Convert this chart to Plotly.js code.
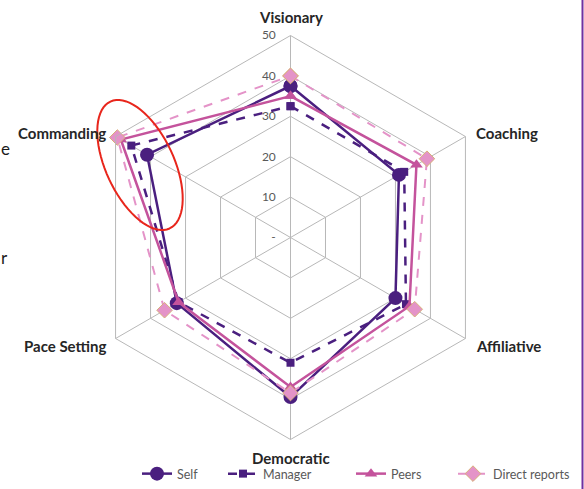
<!DOCTYPE html>
<html>
<head>
<meta charset="utf-8">
<script src="https://cdn.plot.ly/plotly-3.0.1.min.js"></script>
<style>html,body{margin:0;padding:0;background:#fff;}#chart{width:584px;height:489px;}</style>
</head>
<body>
<div id="chart"></div>
<script>
const categories = ['Visionary', 'Coaching', 'Affiliative', 'Democratic', 'Pace Setting', 'Commanding'];
const selfScores = [37.5, 31, 30, 39.5, 32.5, 41];
const managerScores = [32.5, 32.5, 33, 31, 32, 45.5];
const peersScores = [35, 36, 34, 37, 32, 48.5];
const directReportsScores = [40, 39, 35.5, 38.5, 36, 49.5];
const radialTicks = [0, 10, 20, 30, 40, 50];
const radialTickText = ['-', '10', '20', '30', '40', '50'];

function closed(a) { return a.concat([a[0]]); }

const W = 584, H = 489;
const cx = 290.5, cy = 237.5, R = 202;

function mk(name, vals, color, dash, symbol, size, width, legendId, mline) {
  return {
    type: 'scatterpolar', mode: 'lines+markers', name: name, legend: legendId,
    r: closed(vals), theta: closed(categories),
    line: {color: color, width: width, dash: dash},
    marker: {symbol: symbol, size: size, color: color, line: mline || {width: 0}},
    hoverinfo: 'skip'
  };
}

const data = [
  mk('Self', selfScores, '#4a1f7f', 'solid', 'circle', 14, 2.5, 'legend'),
  mk('Manager', managerScores, '#4a1f7f', 'dash', 'square', 8, 2.5, 'legend2'),
  mk('Peers', peersScores, '#c4539c', 'solid', 'triangle-up', 11, 2.5, 'legend3'),
  mk('Direct reports', directReportsScores, '#e493c8', 'dash', 'diamond', 12, 2, 'legend4', {width: 1, color: '#d9b07a'})
];

// red ellipse annotation around Commanding
const ex = 140, ey = 165, ea = 70, eb = 34, rot = 65 * Math.PI / 180;
let path = '';
for (let i = 0; i <= 72; i++) {
  const t = i / 72 * 2 * Math.PI;
  const px = ex + ea * Math.cos(t) * Math.cos(rot) - eb * Math.sin(t) * Math.sin(rot);
  const py = ey + ea * Math.cos(t) * Math.sin(rot) + eb * Math.sin(t) * Math.cos(rot);
  path += (i === 0 ? 'M ' : ' L ') + (px / W).toFixed(5) + ',' + (1 - py / H).toFixed(5);
}
path += ' Z';

// category label placement (pixels)
const labelPos = [
  {x: 290.5, y: 17, xa: 'center'}, {x: 474, y: 133, xa: 'left'}, {x: 474, y: 346, xa: 'left'},
  {x: 290.5, y: 458, xa: 'center'}, {x: 108, y: 346, xa: 'right'}, {x: 108, y: 133, xa: 'right'}
];
const labelFont = {size: 15, color: '#262626', family: 'Lato, sans-serif', weight: 'bold'};
const annotations = categories.map((c, i) => ({
  text: c, xref: 'paper', yref: 'paper', x: labelPos[i].x / W, y: 1 - labelPos[i].y / H,
  xanchor: labelPos[i].xa, yanchor: 'middle', showarrow: false, font: labelFont
}));
annotations.push(
  {text: 'e', xref: 'paper', yref: 'paper', x: -0.002, xanchor: 'left', y: 1 - 148 / H, yanchor: 'middle', showarrow: false, font: {size: 17, color: '#1a1a1a', family: 'Lato, sans-serif'}},
  {text: 'r', xref: 'paper', yref: 'paper', x: -0.002, xanchor: 'left', y: 1 - 257 / H, yanchor: 'middle', showarrow: false, font: {size: 17, color: '#1a1a1a', family: 'Lato, sans-serif'}}
);

function legendAt(px) {
  return {
    orientation: 'h', x: px / W, xanchor: 'left', y: 0, yanchor: 'bottom',
    font: {size: 12.5, color: '#595959', family: 'Lato, sans-serif'},
    bgcolor: 'rgba(0,0,0,0)', borderwidth: 0
  };
}

const layout = {
  width: W, height: H,
  margin: {l: 0, r: 0, t: 0, b: 0},
  paper_bgcolor: '#ffffff',
  font: {family: 'Lato, "Open Sans", sans-serif', color: '#595959'},
  showlegend: true,
  legend: legendAt(137),
  legend2: legendAt(223),
  legend3: legendAt(351),
  legend4: legendAt(453),
  polar: {
    domain: {x: [(cx - R) / W, (cx + R) / W], y: [(H - cy - R) / H, (H - cy + R) / H]},
    bgcolor: '#ffffff',
    gridshape: 'linear',
    radialaxis: {
      range: [0, 50], angle: 90, tickangle: 90,
      tickvals: radialTicks, ticktext: radialTickText,
      showline: false, ticks: 'outside', ticklen: 10, tickcolor: 'rgba(0,0,0,0)',
      side: 'counterclockwise',
      gridcolor: '#b8b8b8', gridwidth: 1,
      tickfont: {size: 12, color: '#595959', family: 'Lato, sans-serif'}
    },
    angularaxis: {
      rotation: 90, direction: 'clockwise',
      gridcolor: '#b8b8b8', linecolor: '#b8b8b8', showline: true, ticks: '',
      showticklabels: false
    }
  },
  shapes: [
    {type: 'path', xref: 'paper', yref: 'paper', path: path, line: {color: '#e8261c', width: 2}, fillcolor: 'rgba(0,0,0,0)'},
    {type: 'line', xref: 'paper', yref: 'paper', x0: 582.5 / W, x1: 582.5 / W, y0: 0, y1: 1, line: {color: '#7030a0', width: 2}}
  ],
  annotations: annotations
};

Plotly.newPlot('chart', data, layout, {displayModeBar: false, staticPlot: true});
</script>
</body>
</html>
